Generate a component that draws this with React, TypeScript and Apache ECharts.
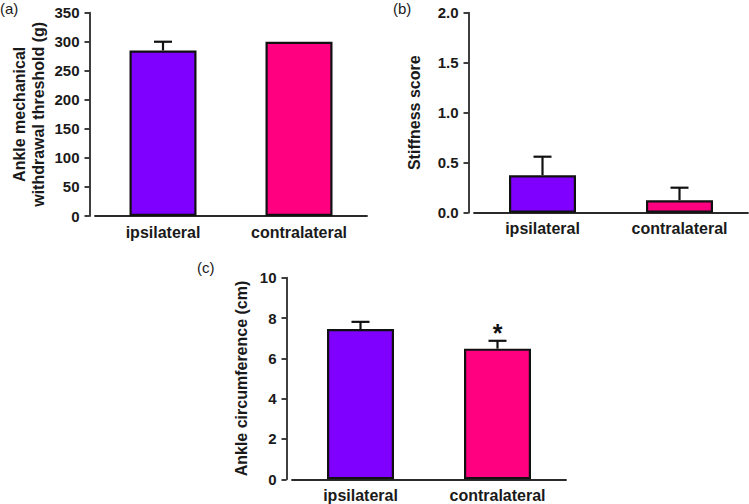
import React, { useEffect, useRef } from "react";
import * as echarts from "echarts";

const categories = ["ipsilateral", "contralateral"];
const thresholdMean = [285, 300];
const thresholdSem = [15, 0];
const stiffnessMean = [0.375, 0.125];
const stiffnessSem = [0.185, 0.125];
const circumferenceMean = [7.45, 6.48];
const circumferenceSem = [0.36, 0.39];
const circumferenceSignif = ["", "*"];
const barColors = ["#7f00ff", "#ff0080"];
const panelLabels = ["(a)", "(b)", "(c)"];

const FONT = "'Liberation Sans', Arial, Helvetica, sans-serif";
const INK = "#1a1a1a";
const AXIS = "#2a2a2a";

type Panel = {
  grid: { left: number; top: number; width: number; height: number };
  mean: number[];
  sem: number[];
  signif: string[];
  name: string;
  nameGap: number;
  max: number;
  interval: number;
  decimals: number;
};

const panels: Panel[] = [
  {
    grid: { left: 95, top: 12.7, width: 272, height: 203.3 },
    mean: thresholdMean,
    sem: thresholdSem,
    signif: ["", ""],
    name: "Ankle mechanical\nwithdrawal threshold (g)",
    nameGap: 42,
    max: 350,
    interval: 50,
    decimals: 0,
  },
  {
    grid: { left: 474, top: 12.7, width: 274, height: 200 },
    mean: stiffnessMean,
    sem: stiffnessSem,
    signif: ["", ""],
    name: "Stiffness score",
    nameGap: 45,
    max: 2,
    interval: 0.5,
    decimals: 1,
  },
  {
    grid: { left: 292, top: 277.7, width: 274, height: 201.6 },
    mean: circumferenceMean,
    sem: circumferenceSem,
    signif: circumferenceSignif,
    name: "Ankle circumference (cm)",
    nameGap: 36,
    max: 10,
    interval: 2,
    decimals: 0,
  },
];

export default function App() {
  const ref = useRef<HTMLDivElement>(null);

  useEffect(() => {
    document.body.style.margin = "0";
    if (!ref.current) return;
    const chart = echarts.init(ref.current, undefined, { renderer: "svg" });

    const grids: any[] = [];
    const xAxes: any[] = [];
    const yAxes: any[] = [];
    const series: any[] = [];

    panels.forEach((p, k) => {
      grids.push({ ...p.grid, containLabel: false });
      xAxes.push({
        type: "category",
        gridIndex: k,
        data: categories,
        axisLine: { lineStyle: { color: AXIS, width: 1.8 } },
        axisTick: { alignWithLabel: true, length: 5, lineStyle: { color: AXIS, width: 1.8 } },
        axisLabel: {
          color: INK,
          fontFamily: FONT,
          fontWeight: "bold",
          fontSize: 16,
          margin: 8,
        },
      });
      yAxes.push({
        type: "value",
        gridIndex: k,
        min: 0,
        max: p.max,
        interval: p.interval,
        offset: 5.5,
        name: p.name,
        nameLocation: "middle",
        nameGap: p.nameGap,
        nameRotate: 90,
        nameTextStyle: {
          color: INK,
          fontFamily: FONT,
          fontWeight: "bold",
          fontSize: 16,
          lineHeight: 19,
        },
        splitLine: { show: false },
        axisLine: { show: true, lineStyle: { color: AXIS, width: 1.8 } },
        axisTick: { show: true, length: 5, lineStyle: { color: AXIS, width: 1.8 } },
        axisLabel: {
          color: INK,
          fontFamily: FONT,
          fontWeight: "bold",
          fontSize: 15,
          margin: 10,
          formatter: (v: number) => v.toFixed(p.decimals),
        },
      });
      series.push({
        type: "bar",
        xAxisIndex: k,
        yAxisIndex: k,
        barWidth: 67,
        data: p.mean.map((v, i) => ({
          value: v,
          itemStyle: { color: barColors[i], borderColor: "#111", borderWidth: 2.2 },
        })),
        z: 2,
      });
      series.push({
        type: "custom",
        xAxisIndex: k,
        yAxisIndex: k,
        z: 3,
        data: p.mean.map((v, i) => [i, v, p.sem[i]]),
        renderItem: (params: any, api: any) => {
          const i = api.value(0);
          const m = api.value(1);
          const s = api.value(2);
          const base = api.coord([i, m]);
          const top = api.coord([i, m + s]);
          const children: any[] = [];
          if (s > 0) {
            children.push({
              type: "line",
              shape: { x1: base[0], y1: base[1], x2: top[0], y2: top[1] },
              style: { stroke: "#111", lineWidth: 2.2 },
            });
            children.push({
              type: "line",
              shape: { x1: top[0] - 9, y1: top[1], x2: top[0] + 9, y2: top[1] },
              style: { stroke: "#111", lineWidth: 2.2 },
            });
          }
          const mark = p.signif[params.dataIndex];
          if (mark) {
            children.push({
              type: "text",
              x: top[0],
              y: top[1] - 8,
              style: {
                text: mark,
                fill: "#111",
                font: `bold 25px ${FONT}`,
                textAlign: "center",
                textVerticalAlign: "middle",
              },
            });
          }
          return { type: "group", children };
        },
      });
    });

    const labelPos = [
      { left: 0, top: 1 },
      { left: 393, top: 1 },
      { left: 197, top: 260 },
    ];

    chart.setOption({
      animation: false,
      backgroundColor: "#ffffff",
      grid: grids,
      xAxis: xAxes,
      yAxis: yAxes,
      series,
      graphic: panelLabels.map((t, i) => ({
        type: "text",
        left: labelPos[i].left,
        top: labelPos[i].top,
        style: { text: t, fill: INK, font: `15px ${FONT}` },
      })),
    });

    return () => chart.dispose();
  }, []);

  return <div ref={ref} style={{ width: 749, height: 504 }} />;
}
